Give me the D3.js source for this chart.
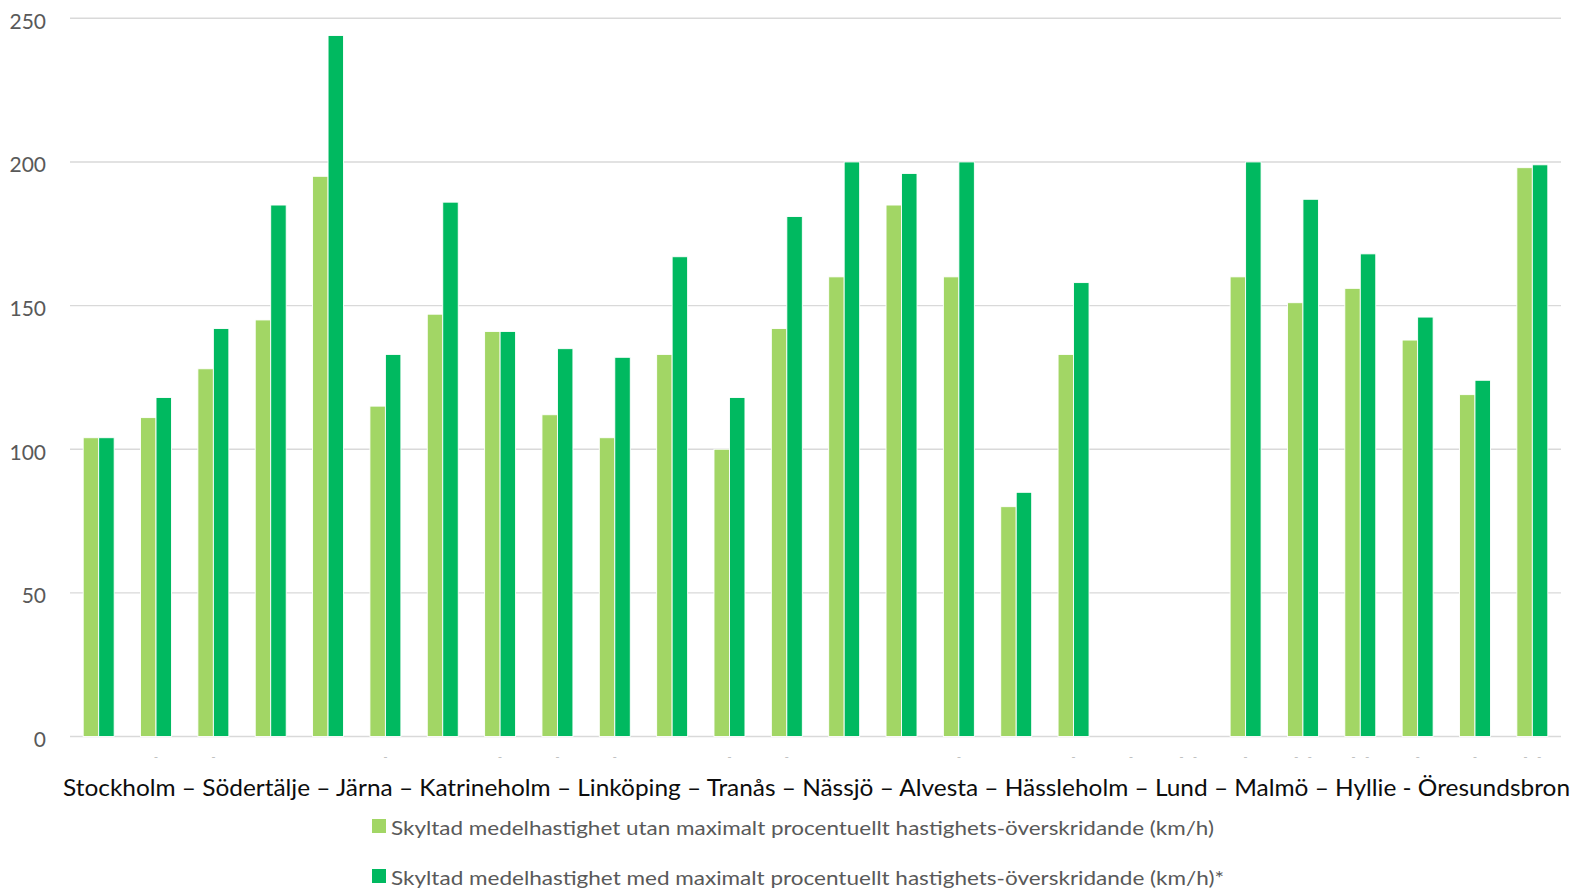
<!DOCTYPE html>
<html lang="sv">
<head>
<meta charset="utf-8">
<title>Skyltad medelhastighet per delsträcka</title>
<script src="https://cdn.jsdelivr.net/npm/d3@7"></script>
<style>
  html, body { margin: 0; padding: 0; background: #ffffff; }
  svg { display: block; font-family: "Lato", "Open Sans", sans-serif; }
</style>
</head>
<body>
<svg id="chart" width="1576" height="889"></svg>
<script>
// Delsträckor längs banan, från Stockholm till Öresundsbron
const sections = [1, 2, 3, 4, 5, 6, 7, 8, 9, 10, 11, 12, 13, 14, 15, 16, 17, 18, 19, 20, 21, 22, 23, 24, 25, 26];

// Små kategorietiketter under axeln
const sectionLabels = ["", "-", "-", "", "", "-", "", "-", "-", "-", "", "-", "-", "", "", "-", "", "-", "-", "- -", "-", "- -", "- -", "-", "-", "- -"];

// Skyltad medelhastighet utan överskridande (km/h)
const speedWithout = [104, 111, 128, 145, 195, 115, 147, 141, 112, 104, 133, 100, 142, 160, 185, 160, 80, 133, null, null, 160, 151, 156, 138, 119, 198];

// Skyltad medelhastighet med maximalt överskridande (km/h)
const speedWith = [104, 118, 142, 185, 244, 133, 186, 141, 135, 132, 167, 118, 181, 200, 196, 200, 85, 158, null, null, 200, 187, 168, 146, 124, 199];

const seriesNames = [
  "Skyltad medelhastighet utan maximalt procentuellt hastighets-överskridande (km/h)",
  "Skyltad medelhastighet med maximalt procentuellt hastighets-överskridande (km/h)*"
];
const seriesColors = ["#a2d665", "#00b960"];

const yTicks = [0, 50, 100, 150, 200, 250];

const axisTitle = "Stockholm – Södertälje – Järna – Katrineholm – Linköping – Tranås – Nässjö – Alvesta – Hässleholm – Lund – Malmö – Hyllie - Öresundsbron";

const svg = d3.select("#chart");

const plot = { left: 70, right: 1561, top: 18.3, bottom: 736.5 };

const x0 = d3.scaleBand()
  .domain(sections)
  .range([plot.left, plot.right])
  .paddingInner(0.46)
  .paddingOuter(0.23);

const x1 = d3.scaleBand()
  .domain([0, 1])
  .range([0, x0.bandwidth()]);

const y = d3.scaleLinear()
  .domain([0, 250])
  .range([plot.bottom, plot.top]);

// Stödlinjer
svg.append("g")
  .selectAll("line")
  .data(yTicks)
  .join("line")
  .attr("x1", plot.left)
  .attr("x2", plot.right)
  .attr("y1", d => y(d))
  .attr("y2", d => y(d))
  .attr("stroke", "#d9d9d9")
  .attr("stroke-width", 1.4);

// Y-axelns etiketter
const yAxis = d3.axisLeft(y).tickValues(yTicks).tickSize(0).tickPadding(0);
const gy = svg.append("g")
  .attr("transform", `translate(46,0)`)
  .call(yAxis);
gy.select(".domain").remove();
gy.selectAll("text")
  .attr("fill", "#595959")
  .attr("font-size", 21)
  .attr("font-family", "Lato, sans-serif")
  .attr("dy", "0.47em");

// Staplar
const rows = sections.map((s, i) => ({ section: s, values: [speedWithout[i], speedWith[i]] }));

const groups = svg.append("g")
  .selectAll("g")
  .data(rows)
  .join("g")
  .attr("transform", d => `translate(${x0(d.section)},0)`);

groups.selectAll("rect")
  .data(d => d.values.map((v, k) => ({ k, v })).filter(e => e.v != null))
  .join("rect")
  .attr("x", e => x1(e.k))
  .attr("width", x1.bandwidth())
  .attr("y", e => y(e.v))
  .attr("height", e => y(0) - y(e.v))
  .attr("fill", e => seriesColors[e.k])
  .attr("stroke", "#ffffff")
  .attr("stroke-width", 0.9);

// Kategorietiketter under axeln
const xAxis = d3.axisBottom(x0).tickSize(0).tickPadding(0).tickFormat((d, i) => sectionLabels[i]);
const gx = svg.append("g")
  .attr("transform", `translate(0,752)`)
  .call(xAxis);
gx.select(".domain").remove();
gx.selectAll("text")
  .attr("fill", "#bdbdbd")
  .attr("font-size", 12)
  .attr("font-family", "Lato, sans-serif")
  .style("white-space", "pre")
  .text((d, i) => sectionLabels[i].replace(" ", "\u00a0\u00a0\u00a0"));

// Axeltitel med sträckans stationer
svg.append("text")
  .attr("x", 63)
  .attr("y", 796)
  .attr("fill", "#0d0d0d")
  .attr("font-size", 24)
  .attr("textLength", 1507)
  .attr("lengthAdjust", "spacingAndGlyphs")
  .text(axisTitle);

// Teckenförklaring
const legendRows = [
  { y: 819, width: 823 },
  { y: 869, width: 833 }
];
const legend = svg.append("g")
  .selectAll("g")
  .data(seriesNames)
  .join("g")
  .attr("transform", (d, i) => `translate(372,${legendRows[i].y})`);

legend.append("rect")
  .attr("width", 14)
  .attr("height", 14)
  .attr("fill", (d, i) => seriesColors[i]);

legend.append("text")
  .attr("x", 19)
  .attr("y", 16)
  .attr("fill", "#595959")
  .attr("font-size", 20)
  .attr("textLength", (d, i) => legendRows[i].width)
  .attr("lengthAdjust", "spacingAndGlyphs")
  .text(d => d);
</script>
</body>
</html>
